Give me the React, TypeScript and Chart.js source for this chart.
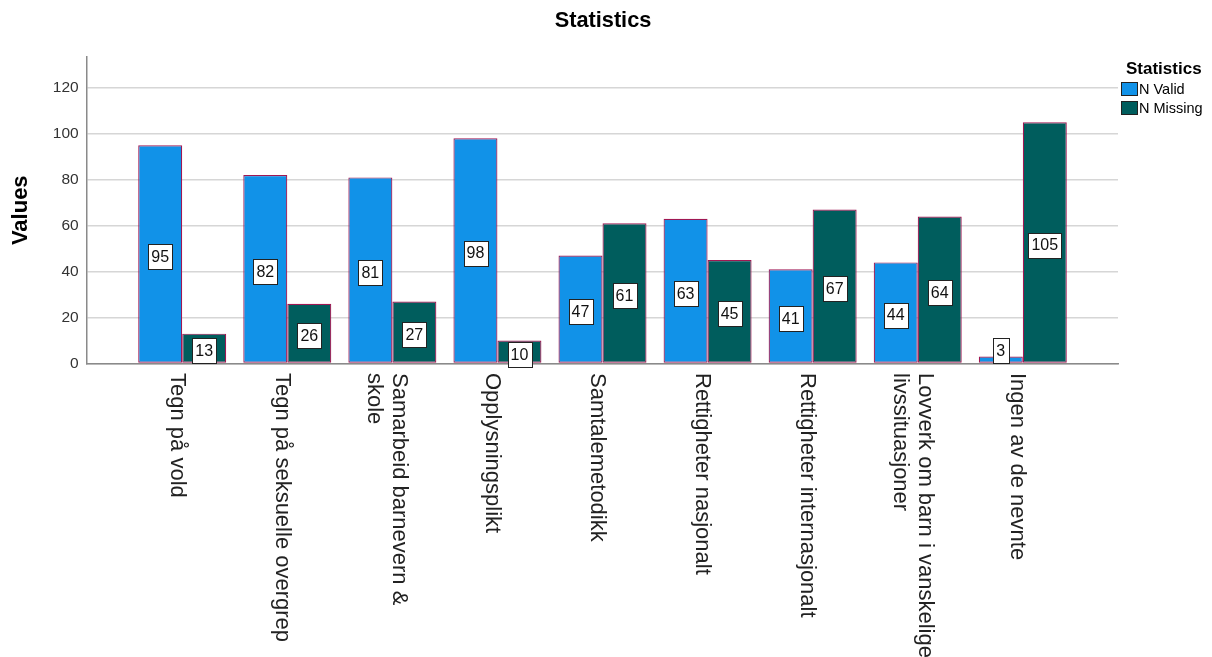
import React, { useEffect, useRef } from "react";
import { Chart, registerables } from "chart.js";

Chart.register(...registerables);

const chartTitle = "Statistics";
const yAxisTitle = "Values";
const legendTitle = "Statistics";
const seriesNames = ["N Valid", "N Missing"];
const categories: (string | string[])[] = [
  "Tegn på vold",
  "Tegn på seksuelle overgrep",
  ["Samarbeid barnevern &", "skole"],
  "Opplysningsplikt",
  "Samtalemetodikk",
  "Rettigheter nasjonalt",
  "Rettigheter internasjonalt",
  ["Lovverk om barn i vanskelige", "livssituasjoner"],
  "Ingen av de nevnte",
];
const nValid = [95, 82, 81, 98, 47, 63, 41, 44, 3];
const nMissing = [13, 26, 27, 10, 61, 45, 67, 64, 105];
const yTicks = [0, 20, 40, 60, 80, 100, 120];

const FONT = "'Liberation Sans', Arial, sans-serif";
const COLORS = ["#1192E8", "#005D5D"];
const BAR_BORDER = "#9F1853";

const titlePlugin = {
  id: "customTitle",
  afterDraw(chart: any) {
    const ctx = chart.ctx;
    ctx.save();
    ctx.font = `bold 21.75px ${FONT}`;
    ctx.fillStyle = "#000";
    ctx.textAlign = "center";
    ctx.textBaseline = "middle";
    ctx.fillText(chartTitle, 603, 21);
    ctx.restore();
  },
};

const xLabelsPlugin = {
  id: "xLabels",
  afterDraw(chart: any) {
    const xs = chart.scales.x;
    const ctx = chart.ctx;
    ctx.save();
    ctx.font = `22px ${FONT}`;
    ctx.fillStyle = "#222";
    ctx.textAlign = "left";
    ctx.textBaseline = "middle";
    categories.forEach((lab, i) => {
      const lines = Array.isArray(lab) ? lab : [lab];
      const cx = xs.getPixelForValue(i);
      lines.forEach((line, j) => {
        const mx = cx - 5.5 + ((lines.length - 1) / 2 - j) * 25;
        ctx.save();
        ctx.translate(mx, chart.chartArea.bottom + 9.5);
        ctx.rotate(Math.PI / 2);
        ctx.fillText(line, 0, 0);
        ctx.restore();
      });
    });
    ctx.restore();
  },
};

const dataLabelsPlugin = {
  id: "dataLabels",
  afterDatasetsDraw(chart: any) {
    const ctx = chart.ctx;
    ctx.save();
    ctx.font = `16px ${FONT}`;
    ctx.textAlign = "center";
    ctx.textBaseline = "middle";
    chart.data.datasets.forEach((ds: any, d: number) => {
      const meta = chart.getDatasetMeta(d);
      meta.data.forEach((el: any, i: number) => {
        const { x, y, base } = el.getProps(["x", "y", "base"], true);
        const v = ds.data[i].y;
        const text = String(v);
        const w = Math.max(ctx.measureText(text).width + 6, 16);
        const h = 25;
        let cy = (y + base) / 2 + 2.5;
        if (cy + h / 2 > base + 5) cy = base - h / 2;
        const left = Math.round(x - w / 2) + 0.5;
        const top = Math.round(cy - h / 2) + 0.5;
        ctx.fillStyle = "#fff";
        ctx.fillRect(left, top, Math.round(w), h);
        ctx.strokeStyle = "#222";
        ctx.lineWidth = 1;
        ctx.strokeRect(left, top, Math.round(w), h);
        ctx.fillStyle = "#111";
        ctx.fillText(text, x, cy + 1);
      });
    });
    ctx.restore();
  },
};

const legendPlugin = {
  id: "customLegend",
  afterDraw(chart: any) {
    const ctx = chart.ctx;
    ctx.save();
    ctx.textAlign = "left";
    ctx.textBaseline = "middle";
    ctx.fillStyle = "#000";
    ctx.font = `bold 17px ${FONT}`;
    ctx.fillText(legendTitle, 1126, 69);
    ctx.font = `14.5px ${FONT}`;
    chart.data.datasets.forEach((ds: any, d: number) => {
      const by = 82 + d * 19;
      ctx.fillStyle = ds.backgroundColor;
      ctx.fillRect(1121.5, by + 0.5, 16, 13);
      ctx.strokeStyle = "#222";
      ctx.lineWidth = 1;
      ctx.strokeRect(1121.5, by + 0.5, 16, 13);
      ctx.fillStyle = "#000";
      ctx.fillText(ds.label, 1139, by + 8);
    });
    ctx.restore();
  },
};

export default function App() {
  const canvasRef = useRef<HTMLCanvasElement | null>(null);

  useEffect(() => {
    if (!canvasRef.current) return;
    const chart = new Chart(canvasRef.current, {
      type: "bar",
      data: {
        datasets: [nValid, nMissing].map((arr, d) => ({
          label: seriesNames[d],
          data: arr.map((v, i) => ({ x: i, y: v })),
          backgroundColor: COLORS[d],
          borderColor: BAR_BORDER,
          borderWidth: 1.2,
          borderSkipped: false,
          categoryPercentage: 0.8375,
          barPercentage: 1,
        })),
      },
      options: {
        animation: false,
        responsive: false,
        events: [],
        layout: { padding: { left: 0, right: 94, top: 57, bottom: 0 } },
        plugins: {
          legend: { display: false },
          tooltip: { enabled: false },
          title: { display: false },
        },
        scales: {
          x: {
            type: "linear",
            min: -0.909,
            max: 8.906,
            offset: false,
            afterBuildTicks(s: any) {
              s.ticks = categories.map((_, i) => ({ value: i }));
            },
            ticks: { display: false },
            grid: { display: false },
            border: { display: true, color: "#8a8a8a", width: 1.5 },
            afterFit(s: any) {
              s.height = 657 - 363.5;
            },
          },
          y: {
            type: "linear",
            min: 0,
            max: 133.4,
            afterBuildTicks(s: any) {
              s.ticks = yTicks.map((v) => ({ value: v }));
            },
            ticks: {
              color: "#333",
              padding: 8,
              font: { family: FONT, size: 15.5 },
            },
            grid: { color: "#d6d6d6", lineWidth: 1.5, drawTicks: false },
            border: { display: true, color: "#8a8a8a", width: 1.5 },
            title: {
              display: true,
              text: yAxisTitle,
              color: "#000",
              font: { family: FONT, size: 22, weight: "bold" },
              padding: { top: 8, bottom: 0 },
            },
            afterFit(s: any) {
              s.width = 86.7;
            },
          },
        },
      },
      plugins: [titlePlugin, xLabelsPlugin, dataLabelsPlugin, legendPlugin],
    } as any);
    return () => chart.destroy();
  }, []);

  return (
    <div style={{ position: "fixed", left: 0, top: 0, width: 1212, height: 657, background: "#fff" }}>
      <canvas ref={canvasRef} width={1212} height={657} style={{ display: "block" }} />
    </div>
  );
}
